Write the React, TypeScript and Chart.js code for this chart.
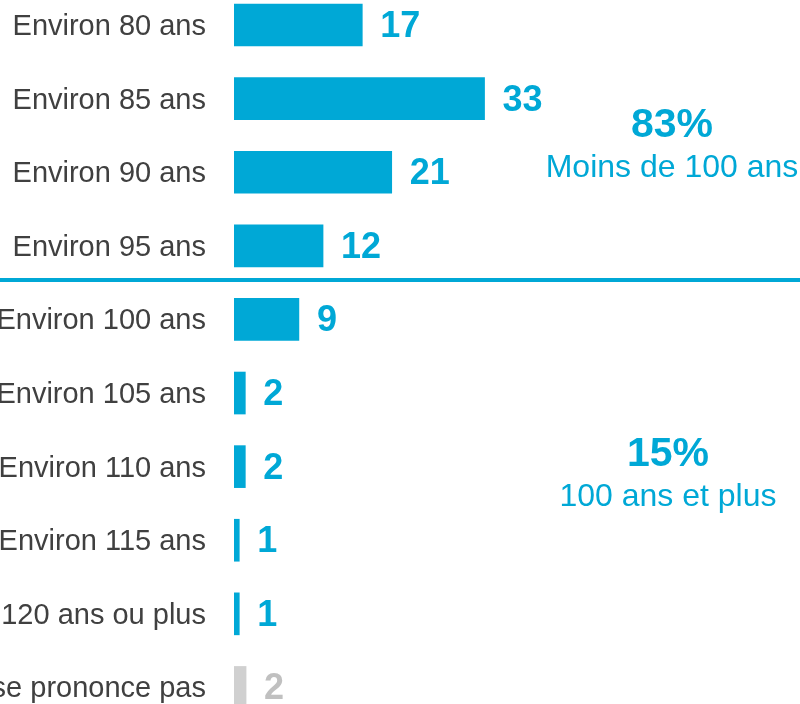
import React, { useEffect, useRef } from "react";
import { Chart, registerables } from "chart.js";

Chart.register(...registerables);

const categories = [
  "Environ 80 ans",
  "Environ 85 ans",
  "Environ 90 ans",
  "Environ 95 ans",
  "Environ 100 ans",
  "Environ 105 ans",
  "Environ 110 ans",
  "Environ 115 ans",
  "120 ans ou plus",
  "Ne se prononce pas",
];
const values = [17, 33.2, 20.9, 11.8, 8.6, 1.5, 1.5, 0.7, 0.7, 1.6];
const valueLabels = ["17", "33", "21", "12", "9", "2", "2", "1", "1", "2"];
const groupPercents = ["83%", "15%"];
const groupNames = ["Moins de 100 ans", "100 ans et plus"];

const BLUE = "#00A8D6";
const GREY_BAR = "#D0D0D0";
const GREY_TEXT = "#C0C0C0";
const LABEL = "#404040";
const FONT = "'Liberation Sans', Arial, sans-serif";

const overlay = {
  id: "overlay",
  afterDatasetsDraw(chart: any) {
    const ctx = chart.ctx;
    const x = chart.scales.x;
    const y = chart.scales.y;
    const left = chart.chartArea.left;
    ctx.save();
    // category labels
    ctx.font = `29px ${FONT}`;
    ctx.fillStyle = LABEL;
    ctx.textAlign = "right";
    ctx.textBaseline = "middle";
    categories.forEach((c, i) => {
      ctx.fillText(c, left - 28, y.getPixelForValue(i) + 2);
    });
    // value labels
    ctx.font = `bold 36px ${FONT}`;
    ctx.textAlign = "left";
    values.forEach((v, i) => {
      ctx.fillStyle = i === values.length - 1 ? GREY_TEXT : BLUE;
      ctx.fillText(valueLabels[i], x.getPixelForValue(v) + 18, y.getPixelForValue(i) + 2);
    });
    // separator
    const sy = y.getPixelForValue(3.465);
    ctx.strokeStyle = BLUE;
    ctx.lineWidth = 4;
    ctx.beginPath();
    ctx.moveTo(0, sy);
    ctx.lineTo(chart.width, sy);
    ctx.stroke();
    // group annotations
    ctx.textAlign = "center";
    ctx.fillStyle = BLUE;
    const gx = [672, 668];
    const gy1 = [1.35, 5.82];
    const gy2 = [1.93, 6.4];
    for (let g = 0; g < 2; g++) {
      ctx.font = `bold 41px ${FONT}`;
      ctx.fillText(groupPercents[g], gx[g], y.getPixelForValue(gy1[g]) + 1);
      ctx.font = `32px ${FONT}`;
      ctx.fillText(groupNames[g], gx[g], y.getPixelForValue(gy2[g]) + 1);
    }
    ctx.restore();
  },
};

export default function App() {
  const ref = useRef<HTMLCanvasElement>(null);
  useEffect(() => {
    document.body.style.margin = "0";
    const chart = new Chart(ref.current!, {
      type: "bar",
      data: {
        datasets: [
          {
            data: values.map((v, i) => ({ x: v, y: i })),
            backgroundColor: values.map((_, i) => (i === values.length - 1 ? GREY_BAR : BLUE)),
            barThickness: 42,
            borderWidth: 0,
          },
        ],
      },
      options: {
        indexAxis: "y",
        animation: false,
        responsive: false,
        maintainAspectRatio: false,
        layout: { padding: { left: 234, right: 0, top: 0, bottom: 0 } },
        plugins: { legend: { display: false }, tooltip: { enabled: false } },
        scales: {
          x: { type: "linear", min: 0, max: 75, display: false, offset: false },
          y: { type: "linear", min: -0.34, max: 9.225, reverse: true, display: false, offset: false },
        },
      },
      plugins: [overlay],
    } as any);
    return () => chart.destroy();
  }, []);
  return (
    <div style={{ position: "absolute", left: 0, top: 0, width: 800, height: 704, background: "#fff" }}>
      <canvas ref={ref} width={800} height={704} style={{ display: "block" }} />
    </div>
  );
}
